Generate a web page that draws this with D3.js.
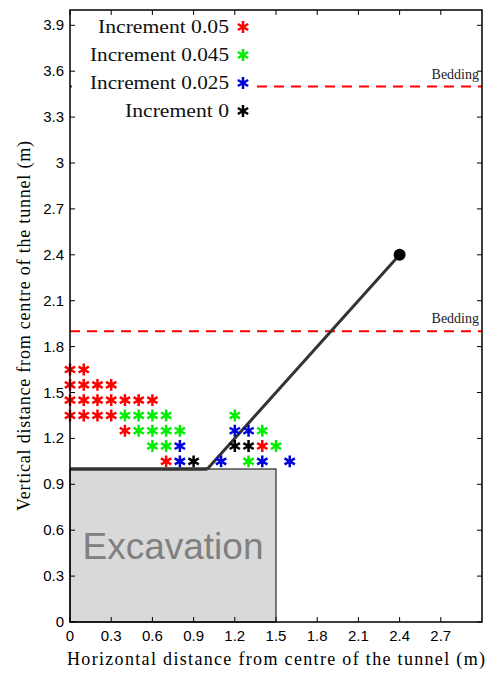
<!DOCTYPE html>
<html>
<head>
<meta charset="utf-8">
<script src="https://cdn.jsdelivr.net/npm/d3@7"></script>
<style>
  html, body { margin: 0; padding: 0; background: #fff; }
  svg { display: block; }
</style>
</head>
<body>
<svg id="chart" width="488" height="673"></svg>
<script>
// Axis ticks
const xTicks = [0, 0.3, 0.6, 0.9, 1.2, 1.5, 1.8, 2.1, 2.4, 2.7];
const yTicks = [0, 0.3, 0.6, 0.9, 1.2, 1.5, 1.8, 2.1, 2.4, 2.7, 3, 3.3, 3.6, 3.9];

// Failure points for each displacement increment
const incrementLabels = ["Increment 0.05", "Increment 0.045", "Increment 0.025", "Increment 0"];
const incrementColors = ["#ff0000", "#00ee00", "#0000dd", "#000000"];

const red05X  = [0, 0.1, 0, 0.1, 0.2, 0.3, 0, 0.1, 0.2, 0.3, 0.4, 0.5, 0.6, 0, 0.1, 0.2, 0.3, 0.4, 0.7, 1.4];
const red05Y  = [1.65, 1.65, 1.55, 1.55, 1.55, 1.55, 1.45, 1.45, 1.45, 1.45, 1.45, 1.45, 1.45, 1.35, 1.35, 1.35, 1.35, 1.25, 1.05, 1.15];

const green045X = [0.4, 0.5, 0.6, 0.7, 0.5, 0.6, 0.7, 0.8, 0.6, 0.7, 1.2, 1.4, 1.5, 1.3];
const green045Y = [1.35, 1.35, 1.35, 1.35, 1.25, 1.25, 1.25, 1.25, 1.15, 1.15, 1.35, 1.25, 1.15, 1.05];

const blue025X = [0.8, 0.8, 1.1, 1.2, 1.3, 1.4, 1.6];
const blue025Y = [1.15, 1.05, 1.05, 1.25, 1.25, 1.05, 1.05];

const black0X = [0.9, 1.2, 1.3];
const black0Y = [1.05, 1.15, 1.15];

// Excavation outline, roof line and inclined joint
const excavationWidth = 1.5;
const excavationHeight = 1.0;
const roofX = [0, 1.0];
const roofY = [1.0, 1.0];
const jointX = [1.0, 2.4];
const jointY = [1.0, 2.4];

// Bedding planes
const beddingY = [3.5, 1.9];

const seriesX = [red05X, green045X, blue025X, black0X];
const seriesY = [red05Y, green045Y, blue025Y, black0Y];

const svg = d3.select("#chart");
const x = d3.scaleLinear().domain([0, 3]).range([70, 482]);
const y = d3.scaleLinear().domain([0, 4]).range([622, 10]);

const serif = "Liberation Serif, Times New Roman, serif";
const sans = "Liberation Sans, Arial, sans-serif";

// Excavation block
svg.append("rect")
  .attr("x", x(0)).attr("y", y(excavationHeight))
  .attr("width", x(excavationWidth) - x(0))
  .attr("height", y(0) - y(excavationHeight))
  .attr("fill", "#d9d9d9").attr("stroke", "#000").attr("stroke-width", 1);

svg.append("text")
  .attr("x", x(0.75)).attr("y", y(0.5) + 13)
  .attr("text-anchor", "middle")
  .attr("font-family", sans).attr("font-size", 37)
  .attr("fill", "#808080")
  .text("Excavation");

// Bedding planes
beddingY.forEach(b => {
  svg.append("line")
    .attr("x1", x(0)).attr("x2", x(3))
    .attr("y1", y(b)).attr("y2", y(b))
    .attr("stroke", "#ff0000").attr("stroke-width", 2)
    .attr("stroke-dasharray", "10,7");
  svg.append("text")
    .attr("x", x(3) - 3).attr("y", y(b) - 8)
    .attr("text-anchor", "end")
    .attr("font-family", serif).attr("font-size", 14)
    .attr("fill", "#222")
    .text("Bedding");
});

// Roof and joint lines
const lineGen = d3.line().x(d => x(d[0])).y(d => y(d[1]));
svg.append("path")
  .attr("d", lineGen(roofX.map((v, i) => [v, roofY[i]])))
  .attr("stroke", "#333").attr("stroke-width", 3.5).attr("fill", "none");
svg.append("path")
  .attr("d", lineGen(jointX.map((v, i) => [v, jointY[i]])))
  .attr("stroke", "#333").attr("stroke-width", 3).attr("fill", "none");
svg.append("circle")
  .attr("cx", x(jointX[1])).attr("cy", y(jointY[1])).attr("r", 6)
  .attr("fill", "#000");

// Asterisk markers
const star = d3.symbol().type(d3.symbolAsterisk).size(100);
seriesX.forEach((xs, si) => {
  svg.append("g").selectAll("path")
    .data(xs.map((v, i) => [v, seriesY[si][i]]))
    .join("path")
    .attr("transform", d => `translate(${x(d[0])},${y(d[1])})`)
    .attr("d", star)
    .attr("fill", "none")
    .attr("stroke", incrementColors[si])
    .attr("stroke-width", 2.5);
});

// Legend on a white background
svg.append("rect")
  .attr("x", x(0) + 2).attr("y", 12)
  .attr("width", 256 - x(0) - 2).attr("height", 112)
  .attr("fill", "#fff");

const legendWidths = [131, 139, 139, 104];
incrementLabels.forEach((lab, i) => {
  const cy = 27 + i * 28;
  svg.append("text")
    .attr("x", 229).attr("y", cy + 6)
    .attr("text-anchor", "end")
    .attr("font-family", serif).attr("font-size", 19)
    .attr("textLength", legendWidths[i]).attr("lengthAdjust", "spacingAndGlyphs")
    .attr("fill", "#111")
    .text(lab);
  svg.append("path")
    .attr("transform", `translate(243,${cy})`)
    .attr("d", star)
    .attr("fill", "none")
    .attr("stroke", incrementColors[i])
    .attr("stroke-width", 2.5);
});

// Axes box with inward ticks
const tickLen = 5;
const axisG = svg.append("g").attr("stroke", "#000").attr("stroke-width", 1);
axisG.append("rect")
  .attr("x", x(0)).attr("y", y(4))
  .attr("width", x(3) - x(0)).attr("height", y(0) - y(4))
  .attr("fill", "none").attr("stroke-width", 1.5);

xTicks.forEach(t => {
  axisG.append("line").attr("x1", x(t)).attr("x2", x(t)).attr("y1", y(0)).attr("y2", y(0) - tickLen);
  axisG.append("line").attr("x1", x(t)).attr("x2", x(t)).attr("y1", y(4)).attr("y2", y(4) + tickLen);
});
yTicks.forEach(t => {
  axisG.append("line").attr("x1", x(0)).attr("x2", x(0) + tickLen).attr("y1", y(t)).attr("y2", y(t));
  axisG.append("line").attr("x1", x(3)).attr("x2", x(3) - tickLen).attr("y1", y(t)).attr("y2", y(t));
});

const fmt = d => (d === 0 || d === 3) ? String(d) : d3.format(".1f")(d);

svg.append("g").selectAll("text").data(xTicks).join("text")
  .attr("x", d => x(d)).attr("y", y(0) + 19)
  .attr("text-anchor", "middle")
  .attr("font-family", sans).attr("font-size", 15)
  .text(fmt);

svg.append("g").selectAll("text").data(yTicks).join("text")
  .attr("x", x(0) - 6).attr("y", d => y(d) + 5)
  .attr("text-anchor", "end")
  .attr("font-family", sans).attr("font-size", 15)
  .text(fmt);

// Axis titles
svg.append("text")
  .attr("x", 276).attr("y", 665)
  .attr("text-anchor", "middle")
  .attr("font-family", serif).attr("font-size", 18)
  .attr("textLength", 418).attr("lengthAdjust", "spacing")
  .text("Horizontal distance from centre of the tunnel (m)");

svg.append("text")
  .attr("transform", "translate(30,326) rotate(-90)")
  .attr("text-anchor", "middle")
  .attr("font-family", serif).attr("font-size", 18)
  .attr("textLength", 370).attr("lengthAdjust", "spacing")
  .text("Vertical distance from centre of the tunnel (m)");
</script>
</body>
</html>
